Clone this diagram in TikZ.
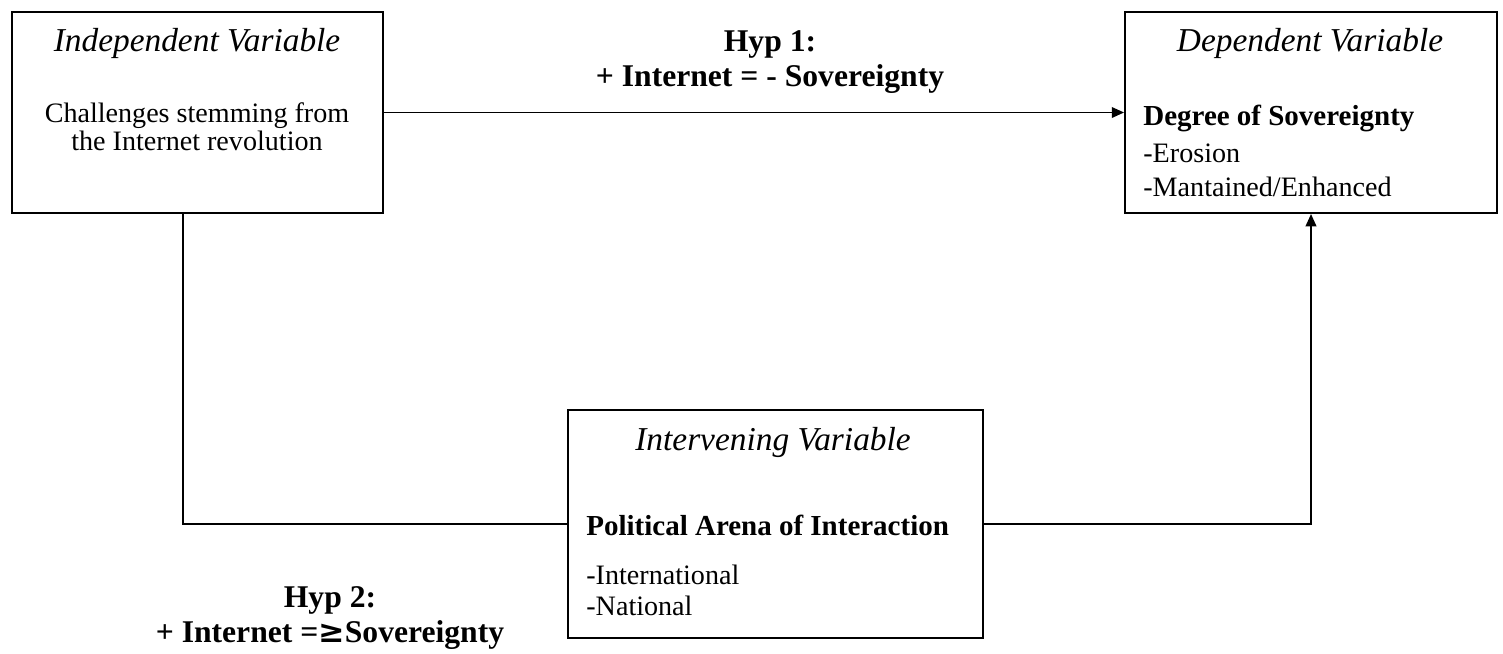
\documentclass[tikz,border=0pt]{standalone}
\usepackage{fontspec}
\setmainfont{Liberation Serif}
\usetikzlibrary{arrows.meta,calc}
\begin{document}
\begin{tikzpicture}[x=0.02cm,y=-0.02cm,
  box/.style={draw,line width=1.1pt,inner sep=0pt},
  conn/.style={line width=1.1pt},
  arr/.style={conn,-{Triangle[length=7pt,width=6pt]}},
  lab/.style={font=\fontsize{16}{16}\selectfont,inner sep=0pt},
  ital/.style={font=\fontsize{19}{20}\selectfont\itshape,inner sep=0pt},
  bld/.style={font=\fontsize{16.5}{18}\selectfont\bfseries,inner sep=0pt},
  hyp/.style={font=\fontsize{18}{20}\selectfont\bfseries,inner sep=0pt,align=center}]
\useasboundingbox[fill=white] (0,0) rectangle (1503,653);
% boxes
\node[box,minimum width=7.42cm,minimum height=4.02cm] (ind) at (197.5,112.5) {};
\node[box,minimum width=7.44cm,minimum height=4.02cm] (dep) at (1311,112.5) {};
\node[box,minimum width=8.3cm,minimum height=4.56cm] (int) at (775.5,524) {};
% independent
\node[ital] (indt) at (197,43) {Independent Variable};
\node[lab,align=center] (indb) at (197,127) {Challenges stemming from\\the Internet revolution};
% dependent
\node[ital] (dept) at (1310,43) {Dependent Variable};
\node[bld,anchor=west] (depb) at (1143,118) {Degree of Sovereignty};
\node[lab,anchor=west] (depe) at (1143,153) {-Erosion};
\node[lab,anchor=west] (depm) at (1143,187) {-Mantained/Enhanced};
% intervening
\node[ital] (intt) at (773,442) {Intervening Variable};
\node[bld,anchor=west] (intb) at (586,525) {Political Arena of Interaction};
\node[lab,anchor=west] (inti) at (586,575) {-International};
\node[lab,anchor=west] (intn) at (586,606) {-National};
% hypotheses
\node[hyp] (h1) at (770,62) {Hyp 1:\\+ Internet = - Sovereignty};
\node[hyp] (h2) at (330,618) {Hyp 2:\\+ Internet =\raisebox{0pt}{\fontspec{DejaVu Serif}\bfseries ≥}Sovereignty};
% connectors
\coordinate (c1) at ($(ind.south)+(-14.5,0)$);
\draw[arr] (ind.east) -- (dep.west);
\draw[conn] (c1) |- (int.west);
\draw[arr] (int.east) -| (dep.south);
\end{tikzpicture}
\end{document}
